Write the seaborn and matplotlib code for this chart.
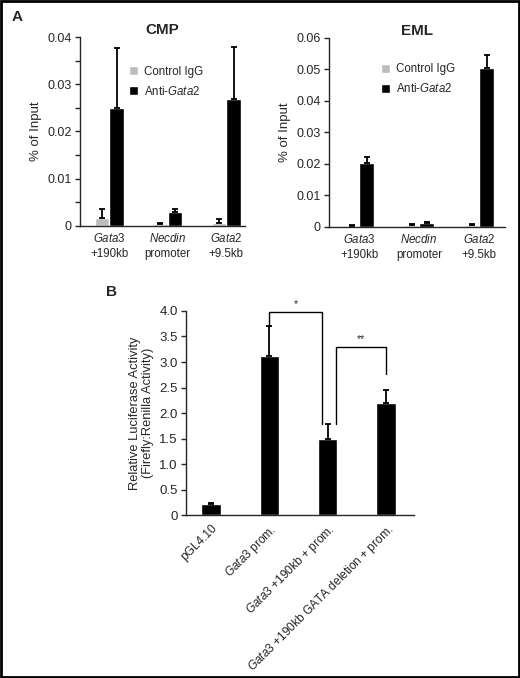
import numpy as np
import pandas as pd
import seaborn as sns
import matplotlib.pyplot as plt
from matplotlib.patches import Rectangle

# ---- data ----
sites = [r"$\it{Gata3}$" + "\n+190kb", r"$\it{Necdin}$" + "\npromoter",
         r"$\it{Gata2}$" + "\n+9.5kb"]
antibodies = ["Control IgG", r"Anti-$\it{Gata2}$"]

cmp_ctrl = [0.0016, 0.0004, 0.0007]
cmp_ctrl_sd = [0.0020, 0.0003, 0.0007]
cmp_anti = [0.0250, 0.0030, 0.0268]
cmp_anti_sd = [0.0127, 0.0005, 0.0111]

eml_ctrl = [0.0003, 0.0005, 0.0005]
eml_ctrl_sd = [0.0002, 0.0003, 0.0003]
eml_anti = [0.0202, 0.0014, 0.0505]
eml_anti_sd = [0.0019, 0.0001, 0.0040]

constructs = ["pGL4.10", r"$\it{Gata3}$ prom.", r"$\it{Gata3}$ +190kb + prom.",
              r"$\it{Gata3}$ +190kb GATA deletion + prom."]
luc = [0.215, 3.11, 1.49, 2.20]
luc_sd = [0.025, 0.59, 0.30, 0.26]

sns.set_style("ticks")
plt.rcParams['font.family'] = ['Liberation Sans', 'DejaVu Sans']
plt.rcParams['mathtext.fontset'] = 'custom'
plt.rcParams['mathtext.rm'] = 'Liberation Sans'
plt.rcParams['mathtext.it'] = 'Liberation Sans:italic'

GRAY = '#bdbdbd'
fig = plt.figure(figsize=(5.2, 6.78), dpi=100)


def chip_panel(rect, ctrl, ctrl_sd, anti, anti_sd, title, yticks, ylabels, xlim,
               leg_anchor, minor=None):
    ax = fig.add_axes(rect)
    df = pd.DataFrame({
        'site': sites * 2,
        'ab': [antibodies[0]] * 3 + [antibodies[1]] * 3,
        'val': ctrl + anti,
    })
    sns.barplot(data=df, x='site', y='val', hue='ab', palette=[GRAY, 'black'],
                width=0.5, errorbar=None, saturation=1, ax=ax)
    for cont, sd in zip(ax.containers, [ctrl_sd, anti_sd]):
        for bar, s in zip(cont, sd):
            xc = bar.get_x() + bar.get_width() / 2
            ax.errorbar(xc, bar.get_height(), yerr=[[0], [s]], fmt='none',
                        ecolor='black', elinewidth=1.3, capsize=2.5, capthick=1.3)
    ax.set_ylim(yticks[0], yticks[-1])
    ax.set_yticks(yticks)
    ax.set_yticklabels(ylabels, fontsize=9)
    if minor is not None:
        ax.set_yticks(minor, minor=True)
    ax.set_xlim(*xlim)
    ax.tick_params(axis='x', length=0, labelsize=8.3, pad=4)
    for t in ax.get_xticklabels():
        t.set_linespacing(1.35)
    ax.tick_params(axis='y', length=3.5, width=1, direction='out', pad=2.5)
    ax.tick_params(axis='y', which='minor', length=3.5, width=1)
    ax.set_xlabel('')
    ax.set_ylabel('% of Input', fontsize=9.5, labelpad=4)
    ax.set_title(title, fontweight='bold', fontsize=11, pad=2)
    sns.despine(ax=ax)
    for sp in ax.spines.values():
        sp.set_linewidth(1)
    h, l = ax.get_legend_handles_labels()
    ax.legend(h, l, loc='upper left', bbox_to_anchor=leg_anchor, frameon=False,
              handlelength=0.8, handleheight=0.8, handletextpad=0.5,
              labelspacing=0.6, fontsize=8.3, borderaxespad=0)
    return ax


chip_panel([0.1538, 0.6667, 0.3173, 0.2787], cmp_ctrl, cmp_ctrl_sd, cmp_anti, cmp_anti_sd,
           'CMP', [0, 0.01, 0.02, 0.03, 0.04], ['0', '0.01', '0.02', '0.03', '0.04'],
           (-0.5, 2.32), (0.27, 0.872), minor=[0.005, 0.015, 0.025, 0.035])
chip_panel([0.6327, 0.6652, 0.3385, 0.2788], eml_ctrl, eml_ctrl_sd, eml_anti, eml_anti_sd,
           'EML', [0, 0.01, 0.02, 0.03, 0.04, 0.05, 0.06],
           ['0', '0.01', '0.02', '0.03', '0.04', '0.05', '0.06'], (-0.5, 2.43),
           (0.27, 0.89))

# ---- panel B ----
axb = fig.add_axes([0.3577, 0.2404, 0.4385, 0.3009])
sns.barplot(x=constructs, y=luc, color='black', width=0.33, saturation=1,
            errorbar=None, ax=axb)
bars = list(axb.containers[0])
tops = []
for bar, s in zip(bars, luc_sd):
    xc = bar.get_x() + bar.get_width() / 2
    axb.errorbar(xc, bar.get_height(), yerr=[[0], [s]], fmt='none', ecolor='black',
                 elinewidth=1.3, capsize=2.5, capthick=1.3)
    tops.append(bar.get_height() + s)

# significance brackets: (left bar, right bar, bracket height, left shift, right shift,
# right leg end, label)
brackets = [(1, 2, 3.98, 0.0, -0.1, None, '*'), (2, 3, 3.29, 0.15, 0.0, 2.77, '**')]
for i, j, h, dl, dr, rend, lab in brackets:
    x1, x2 = i + dl, j + dr
    axb.plot([x1, x1, x2, x2], [tops[i], h, h, tops[j] if rend is None else rend],
             color='black', lw=1, clip_on=False)
    axb.text((x1 + x2) / 2, h + 0.06, lab, ha='center', va='bottom', fontsize=7.5)

axb.set_ylim(0, 4.0)
axb.set_yticks(np.arange(0, 4.01, 0.5))
axb.set_yticklabels(['0', '0.5', '1.0', '1.5', '2.0', '2.5', '3.0', '3.5', '4.0'], fontsize=9.5)
axb.set_xlim(-0.43, 3.48)
axb.set_xticks(range(len(constructs)))
axb.set_xticklabels(constructs, rotation=45, ha='right', rotation_mode='anchor', fontsize=8.6)
axb.tick_params(axis='x', length=0, pad=5)
axb.tick_params(axis='y', length=3.5, width=1, pad=2.5)
axb.set_ylabel('Relative Luciferase Activity\n(Firefly:Renilla Activity)', fontsize=9.3,
               labelpad=4, linespacing=1.1)
sns.despine(ax=axb)
for sp in axb.spines.values():
    sp.set_linewidth(1)

fig.text(0.033, 0.975, 'A', fontweight='bold', fontsize=11, ha='center', va='center')
fig.text(0.215, 0.569, 'B', fontweight='bold', fontsize=11, ha='center', va='center')
fig.add_artist(Rectangle((0.002, 0.002), 0.996, 0.996, transform=fig.transFigure,
                         fill=False, edgecolor='black', lw=2))

plt.savefig('out.png', dpi=100)
